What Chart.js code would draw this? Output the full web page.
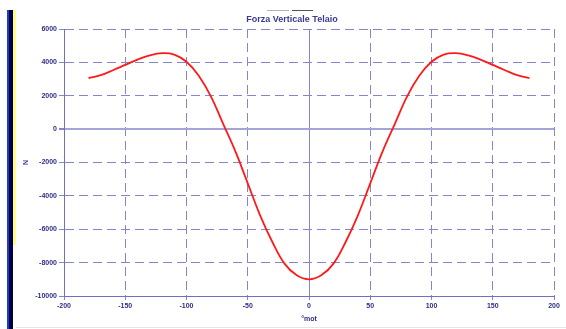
<!DOCTYPE html>
<html>
<head>
<meta charset="utf-8">
<script src="https://cdn.jsdelivr.net/npm/chart.js@4/dist/chart.umd.min.js"></script>
<style>
  html, body { margin: 0; padding: 0; background: #fff; }
  #wrap { position: relative; width: 566px; height: 329px; }
  #wrap canvas { position: absolute; left: 0; top: 0; }
  .bar { position: absolute; }
</style>
</head>
<body>
<div id="wrap">
  <canvas id="chart" width="566" height="329"></canvas>
  <div class="bar" style="left:7px;top:10px;width:2px;height:319px;background:#1a3cc8"></div>
  <div class="bar" style="left:9px;top:10px;width:4px;height:319px;background:#000046"></div>
  <div class="bar" style="left:13px;top:10px;width:3px;height:235px;background:#ffff88"></div>
  <div class="bar" style="left:16px;top:327px;width:550px;height:1px;background:#e6e6e6"></div>
</div>
<script>
const chartTitle = 'Forza Verticale Telaio';
const xLabel = '°mot';
const yLabel = 'N';

// crank angle (deg) and vertical force (N)
const angles = [-180, -170, -160, -150, -140, -130, -120, -110, -100, -90, -80, -70, -60, -50, -40, -30, -20, -10,
    0, 10, 20, 30, 40, 50, 60, 70, 80, 90, 100, 110, 120, 130, 140, 150, 160, 170, 180];
const force = [3050, 3230, 3530, 3850, 4170, 4420, 4550, 4470, 4040, 3200, 1950, 300, -1350, -3250, -5150, -6750, -8060, -8760,
    -9000, -8760, -8060, -6750, -5150, -3250, -1350, 300, 1950, 3200, 4040, 4470, 4550, 4420, 4170, 3850, 3530, 3230, 3050];

const xTicks = { min: -200, max: 200, step: 50 };
const yTicks = { min: -10000, max: 6000, step: 2000 };

const ink = '#2e2e84';
const gridCol = '#8585ca';
const font = { family: '"Liberation Sans", Arial, sans-serif', size: 7, weight: 'bold' };

const titlePlugin = {
    id: 'titleDeco',
    afterDraw(chart) {
        const ctx = chart.ctx;
        ctx.save();
        ctx.lineWidth = 1;
        ctx.strokeStyle = '#b4b4b4';
        ctx.beginPath(); ctx.moveTo(267, 10.5); ctx.lineTo(289, 10.5); ctx.stroke();
        ctx.strokeStyle = '#555555';
        ctx.beginPath(); ctx.moveTo(292, 10.5); ctx.lineTo(313, 10.5); ctx.stroke();
        ctx.fillStyle = '#3a3a90';
        ctx.font = 'bold 9px "Liberation Sans", Arial, sans-serif';
        ctx.textAlign = 'center';
        ctx.textBaseline = 'middle';
        ctx.fillText(chartTitle, 292, 20);
        ctx.restore();
    }
};

new Chart(document.getElementById('chart'), {
    type: 'line',
    data: {
        datasets: [{
            data: angles.map((a, i) => ({ x: a, y: force[i] })),
            borderColor: '#ff1a1a',
            borderWidth: 1.8,
            pointRadius: 0,
            fill: false,
            tension: 0.4,
        }],
    },
    options: {
        responsive: false,
        animation: false,
        layout: { padding: { top: 29, right: 12, left: 0, bottom: 0 } },
        plugins: { legend: { display: false }, tooltip: { enabled: false }, title: { display: false } },
        scales: {
            x: {
                type: 'linear',
                min: xTicks.min,
                max: xTicks.max,
                afterFit: s => { s.height = 33; },
                ticks: { stepSize: xTicks.step, color: ink, font, padding: 2, maxRotation: 0, callback: v => String(v) },
                grid: {
                    color: gridCol,
                    lineWidth: 1,
                    tickLength: 4,
                    tickColor: gridCol,
                },
                border: { display: true, color: '#7070c0', width: 1, dash: c => (c.tick && (c.tick.value === 0 || c.tick.value === xTicks.min)) ? [] : [9, 5] },
                title: { display: true, text: xLabel, color: ink, font, padding: { top: 6, bottom: 6 } },
            },
            y: {
                min: yTicks.min,
                max: yTicks.max,
                afterFit: s => { s.width = 64; },
                ticks: { stepSize: yTicks.step, color: ink, font, padding: 2, callback: v => String(v) },
                grid: {
                    color: c => (c.tick && c.tick.value === 0) ? '#a4a4d8' : gridCol,
                    lineWidth: c => (c.tick && c.tick.value === 0) ? 2 : 1,
                    tickLength: 5,
                    tickColor: gridCol,
                },
                border: { display: true, color: '#7070c0', width: 1, dash: c => (c.tick && (c.tick.value === 0 || c.tick.value === yTicks.min)) ? [] : [9, 5] },
                title: { display: true, text: yLabel, color: ink, font, padding: { top: 22, bottom: 22 } },
            },
        },
    },
    plugins: [titlePlugin],
});
</script>
</body>
</html>
